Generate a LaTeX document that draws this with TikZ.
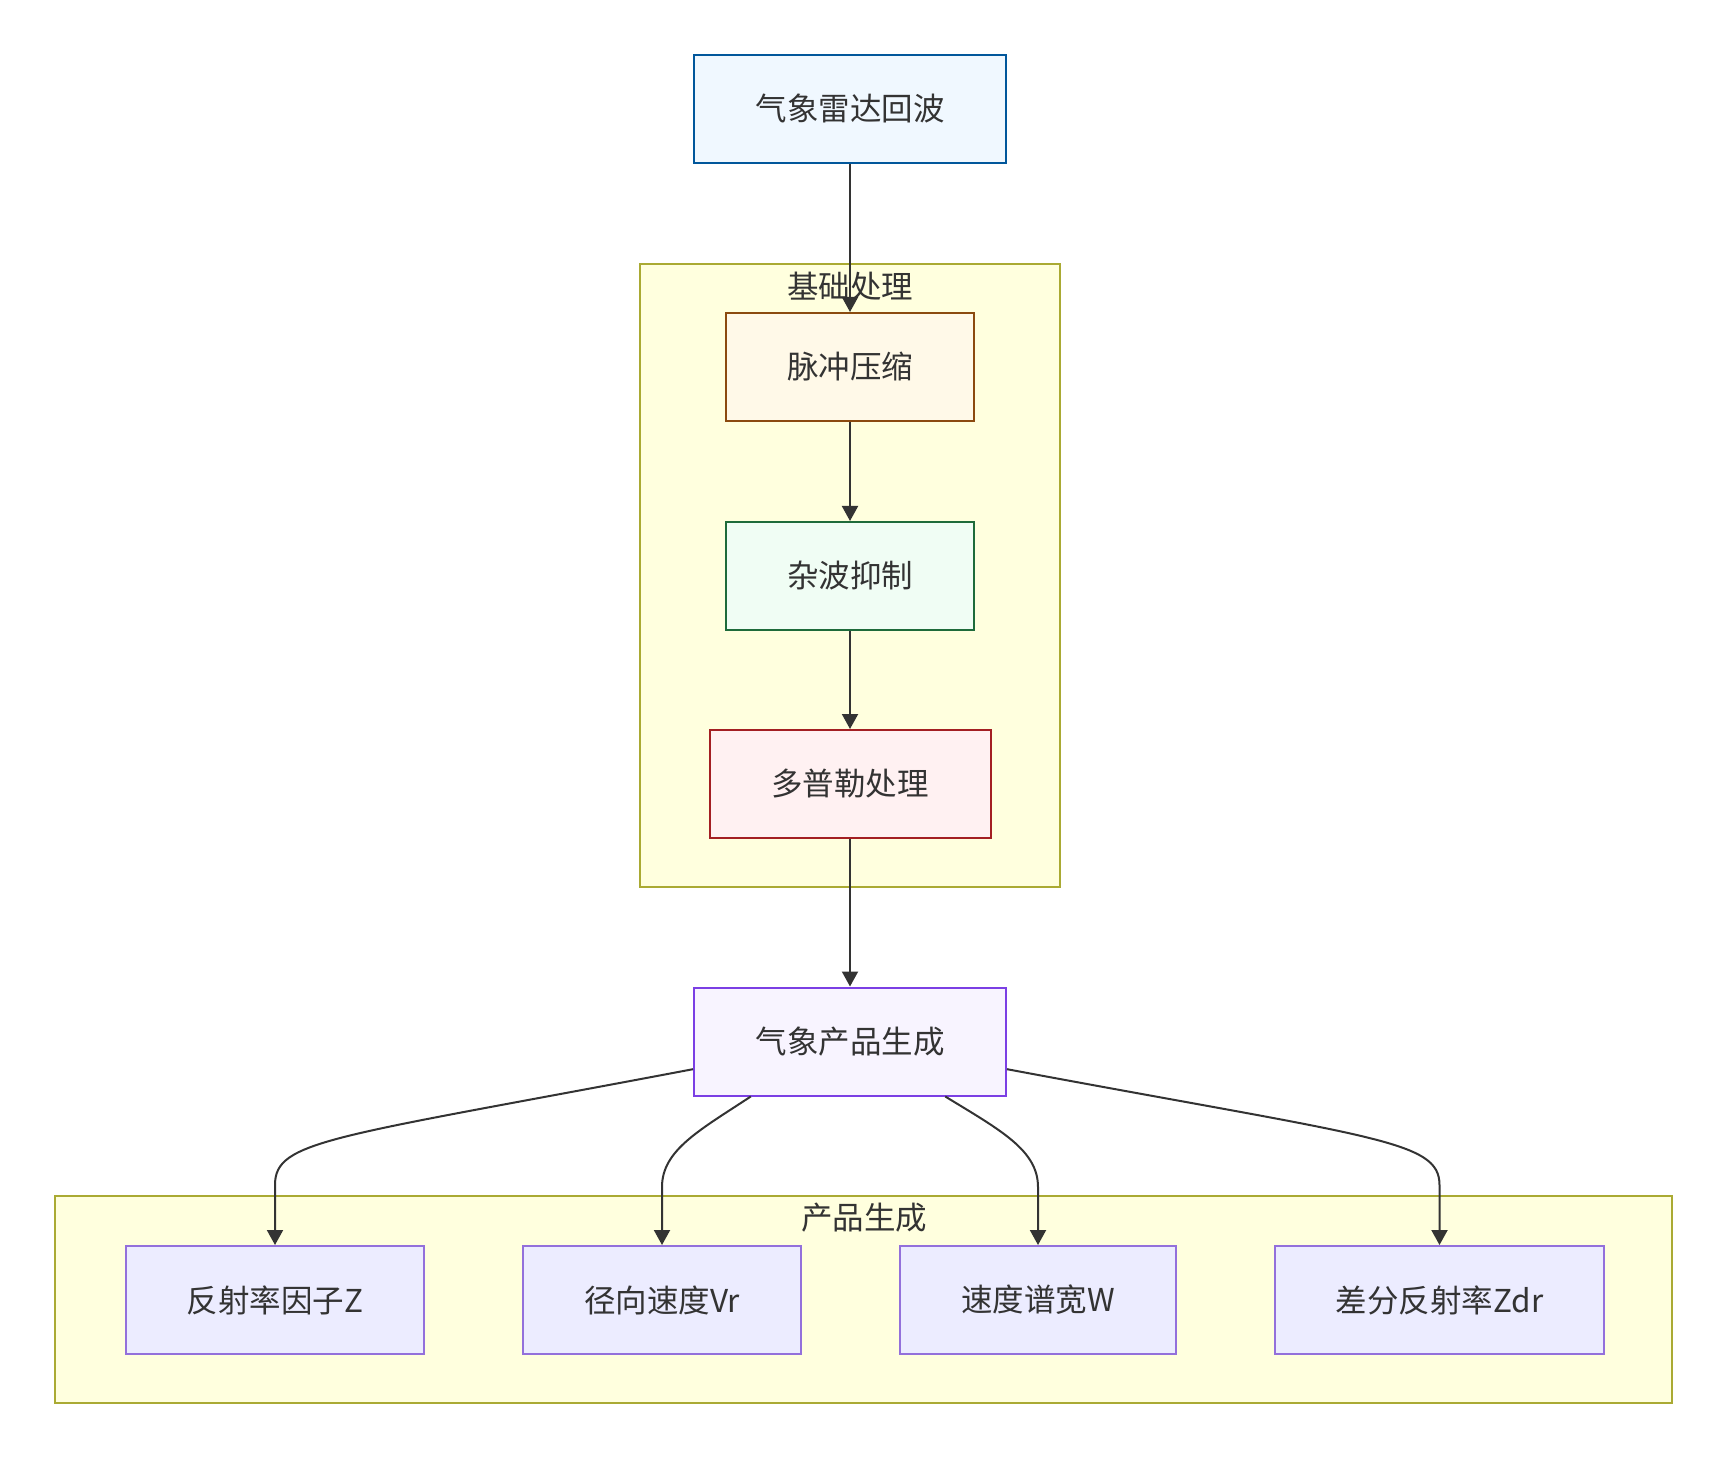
\documentclass[tikz,border=0pt]{standalone}
\usepackage{fontspec}
\newfontfamily\cjk{Noto Sans CJK SC}
\usetikzlibrary{arrows.meta}
\definecolor{txt}{HTML}{333333}
\definecolor{grpfill}{HTML}{FFFFDE}
\definecolor{grpline}{HTML}{AAAA33}
\definecolor{prodfill}{HTML}{ECECFF}
\definecolor{prodline}{HTML}{9370DB}
\definecolor{afill}{HTML}{F0F8FF}
\definecolor{aline}{HTML}{01579B}
\definecolor{b1fill}{HTML}{FFF9E8}
\definecolor{b1line}{HTML}{8B4A0F}
\definecolor{b2fill}{HTML}{F0FDF4}
\definecolor{b2line}{HTML}{1E6B3A}
\definecolor{b3fill}{HTML}{FFF1F2}
\definecolor{b3line}{HTML}{A31F23}
\definecolor{cfill}{HTML}{F8F4FF}
\definecolor{cline}{HTML}{7B3FE4}
\begin{document}
\begin{tikzpicture}[x=0.5pt,y=-0.5pt,every node/.style={font=\cjk\fontsize{15.75}{18}\selectfont,text=txt},
		box/.style={draw,rectangle,line width=1pt,inner sep=0pt,minimum height=54pt},
		prod/.style={box,fill=prodfill,draw=prodline},
		arr/.style={draw=txt,line width=1pt,-{Triangle[length=7.5pt,width=8pt]}}]
		\useasboundingbox (0,0) rectangle (1730,1460);
		% groups
		\draw[fill=grpfill,draw=grpline,line width=1pt] (640,264) rectangle (1060,887);
		\draw[fill=grpfill,draw=grpline,line width=1pt] (55,1196) rectangle (1672,1403);
		\node (g1) at (850,287){基础处理};
		\node (g2) at (864,1218){产品生成};
		\node[box,fill=afill,draw=aline,minimum width=156pt] (A) at (850,109){气象雷达回波};
		\node[box,fill=b1fill,draw=b1line,minimum width=124pt] (B1) at (850,367){脉冲压缩};
		\node[box,fill=b2fill,draw=b2line,minimum width=124pt] (B2) at (850,576){杂波抑制};
		\node[box,fill=b3fill,draw=b3line,minimum width=140.5pt] (B3) at (850,784){多普勒处理};
		\node[box,fill=cfill,draw=cline,minimum width=156pt] (C) at (850,1041.5){气象产品生成};
		\node[prod,minimum width=149pt] (D1) at (275,1300){反射率因子Z};
		\node[prod,minimum width=139pt] (D2) at (662,1300){径向速度Vr};
		\node[prod,minimum width=138pt] (D3) at (1038,1300){速度谱宽W};
		\node[prod,minimum width=164.5pt] (D4) at (1439.5,1300){差分反射率Zdr};
		\draw[arr] (A)--(B1);
		\draw[arr] (B1)--(B2);
		\draw[arr] (B2)--(B3);
		\draw[arr] (B3)--(C);
		% \draw[arr] (C) to[out=190,in=90] (D1);
		\draw[arr] (C.190) .. controls (330,1138) and (275,1140) .. (275,1185)--(D1);
		\draw[arr] (C.209.5) .. controls (700,1130) and (662,1150) .. (662,1187)--(D2);
		\draw[arr] (C.330.5) .. controls (1000,1130) and (1038,1150) .. (1038,1187)--(D3);
		\draw[arr] (C.350) .. controls (1375,1138) and (1439.5,1140) .. (1439.5,1185)--(D4);
	\end{tikzpicture}
\end{document}
